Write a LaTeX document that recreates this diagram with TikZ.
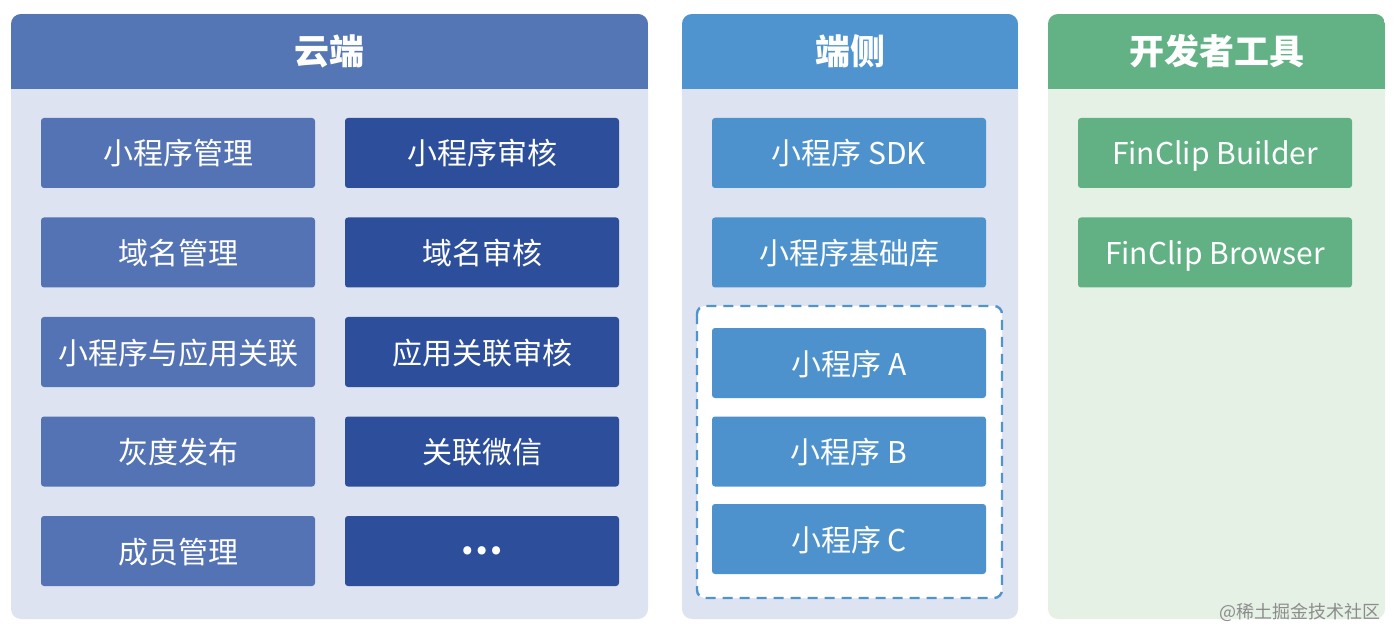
\documentclass[tikz,border=0pt]{standalone}
\usepackage{fontspec}
\setmainfont{Noto Sans CJK SC}
\definecolor{hdrA}{HTML}{5576B5}
\definecolor{bodyA}{HTML}{DDE3F0}
\definecolor{boxAa}{HTML}{5473B4}
\definecolor{boxAb}{HTML}{2D4F9B}
\definecolor{hdrB}{HTML}{4F94CF}
\definecolor{boxB}{HTML}{4E92CD}
\definecolor{hdrC}{HTML}{63B286}
\definecolor{bodyC}{HTML}{E6F1E6}
\definecolor{boxC}{HTML}{62B185}
\definecolor{wmark}{HTML}{8C8C8C}
\begin{document}
\begin{tikzpicture}[x=1pt,y=-1pt,
  hdrtext/.style={text=white, font=\fontsize{35}{35}\selectfont\bfseries, inner sep=0pt, text height=28pt, text depth=2pt},
  box/.style={fill=#1, rounded corners=3pt, minimum width=274pt, minimum height=70pt, inner sep=0pt, text=white, font=\fontsize{30}{30}\selectfont, text height=25pt, text depth=1pt},
  dashbox/.style={draw=hdrB, fill=white, line width=2.4pt, dash pattern=on 10pt off 7pt, rounded corners=8pt}
]
\useasboundingbox (0,0) rectangle (1400,644);
\fill[white] (0,0) rectangle (1400,644);
% panel A
\fill[bodyA, rounded corners=10pt] (11,14) rectangle (648,619);
\begin{scope}
  \clip[rounded corners=10pt] (11,14) rectangle (648,619);
  \fill[hdrA] (11,14) rectangle (648,89);
\end{scope}
\node[hdrtext] (hA) at (329.5,51.5) {云端};
% panel B
\fill[bodyA, rounded corners=10pt] (682,14) rectangle (1018,619);
\begin{scope}
  \clip[rounded corners=10pt] (682,14) rectangle (1018,619);
  \fill[hdrB] (682,14) rectangle (1018,89);
\end{scope}
\node[hdrtext] (hB) at (850,51.5) {端侧};
% panel C
\fill[bodyC, rounded corners=10pt] (1048,14) rectangle (1385,619);
\begin{scope}
  \clip[rounded corners=10pt] (1048,14) rectangle (1385,619);
  \fill[hdrC] (1048,14) rectangle (1385,89);
\end{scope}
\node[hdrtext] (hC) at (1216.5,51.5) {开发者工具};
% cloud boxes
\node[box=boxAa] (a1) at (178,153) {小程序管理};
\node[box=boxAa] (a2) at (178,252.5) {域名管理};
\node[box=boxAa] (a3) at (178,352) {小程序与应用关联};
\node[box=boxAa] (a4) at (178,451.5) {灰度发布};
\node[box=boxAa] (a5) at (178,551) {成员管理};
\node[box=boxAb] (b1) at (482,153) {小程序审核};
\node[box=boxAb] (b2) at (482,252.5) {域名审核};
\node[box=boxAb] (b3) at (482,352) {应用关联审核};
\node[box=boxAb] (b4) at (482,451.5) {关联微信};
\node[box=boxAb, font=\fontsize{38}{38}\selectfont\bfseries, text height=, text depth=] (b5) at (482,551) {\raisebox{-2pt}{\kern-1pt…}};
% device boxes
\node[box=boxB] (c1) at (849,153) {小程序 SDK};
\node[box=boxB] (c2) at (849,252.5) {小程序基础库};
\draw[dashbox] (697,306) rectangle (1002,598);
\node[box=boxB] (c3) at (849,363) {小程序 A};
\node[box=boxB] (c4) at (849,451.5) {小程序 B};
\node[box=boxB] (c5) at (849,539) {小程序 C};
% tool boxes
\node[box=boxC] (d1) at (1215,153) {FinClip Builder};
\node[box=boxC] (d2) at (1215,252.5) {FinClip Browser};
% watermark
\node[anchor=east, text=wmark, font=\fontsize{18}{18}\selectfont, inner sep=0pt] (wm) at (1381,612) {@稀土掘金技术社区};
\end{tikzpicture}
\end{document}
